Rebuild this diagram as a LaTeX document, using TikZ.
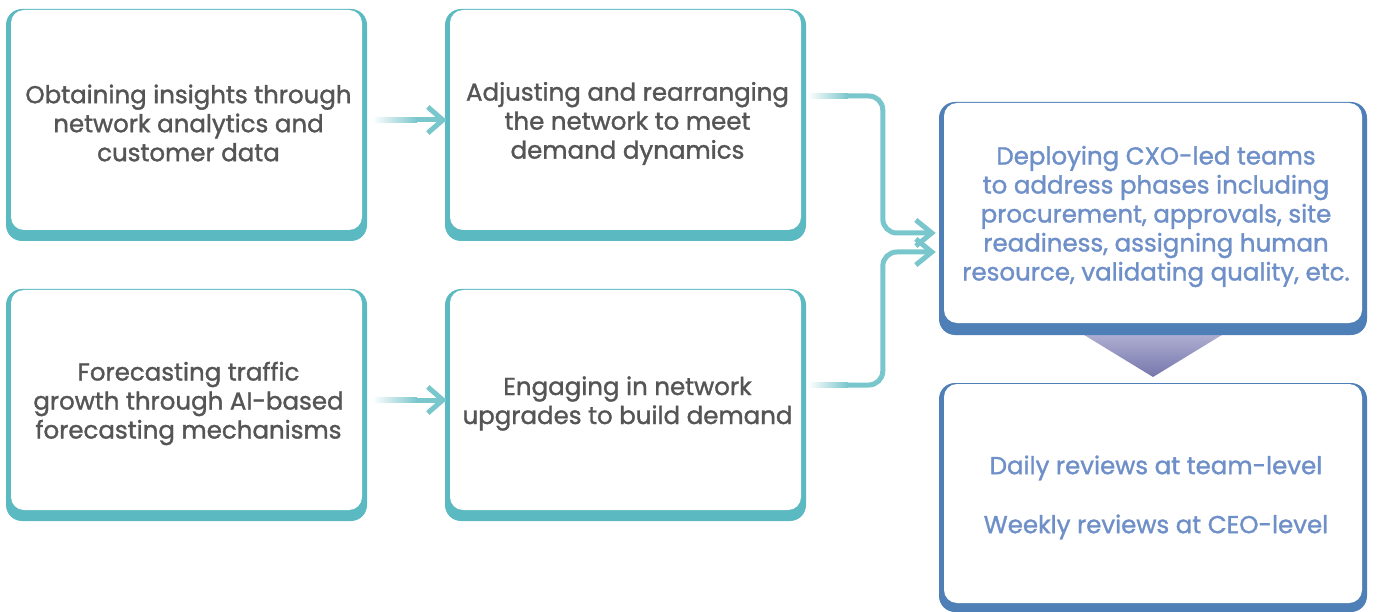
\documentclass[tikz,border=0pt]{standalone}
\usepackage{fontspec}
\setmainfont{Poppins}[UprightFeatures={FakeBold=1.3}]
\usetikzlibrary{calc}
\definecolor{tealbox}{HTML}{5AB9C1}
\definecolor{arrowT}{HTML}{79C6CC}
\definecolor{bluebox}{HTML}{4E7FB6}
\definecolor{bluetext}{HTML}{6E8FC8}
\definecolor{graytext}{HTML}{555555}
\definecolor{triTop}{HTML}{B4B4D6}
\definecolor{triBot}{HTML}{7676AC}
\begin{document}
\begin{tikzpicture}[x=1pt,y=-1pt,
  outerT/.style={fill=tealbox, rounded corners=16pt, minimum width=361pt, minimum height=232pt, inner sep=0pt},
  innerT/.style={fill=white, rounded corners=13pt, minimum width=351pt, minimum height=220pt, inner sep=0pt},
  txtT/.style={align=center, inner sep=0pt, text=graytext, font=\fontsize{24.5}{29}\selectfont},
  outerB/.style={fill=bluebox, rounded corners=16pt, minimum width=428pt, inner sep=0pt},
  innerB/.style={fill=white, rounded corners=13pt, minimum width=418pt, inner sep=0pt},
  txtB/.style={align=center, inner sep=0pt, text=bluetext, font=\fontsize{24.5}{29}\selectfont},
  arrowline/.style={draw=arrowT, line width=5pt},
  chev/.style={draw=arrowT, line width=5pt, miter limit=10}
]
\useasboundingbox (0,0) rectangle (1381,612);

% teal boxes
\node[outerT] (b1o) at (186.5,125) {};
\node[innerT] (b1) at (186.5,120) {};
\node[txtT] (t1) at ($(b1)+(2,3)$) {Obtaining insights through\\network analytics and\\customer data};
\node[outerT] (b2o) at (625.5,125) {};
\node[innerT] (b2) at (625.5,120) {};
\node[txtT] (t2) at ($(b2)+(2,3.5)$) {Adjusting and rearranging\\the network to meet\\demand dynamics};
\node[outerT] (b3o) at (186.5,405) {};
\node[innerT] (b3) at (186.5,400) {};
\node[txtT] (t3) at ($(b3)+(2,3.5)$) {Forecasting traffic\\growth through AI-based\\forecasting mechanisms};
\node[outerT] (b4o) at (625.5,405) {};
\node[innerT] (b4) at (625.5,400) {};
\node[txtT] (t4) at ($(b4)+(2,3.5)$) {Engaging in network\\upgrades to build demand};

% triangle
\shade[top color=triTop, bottom color=triBot] (1076,330) -- (1230,330) -- (1153,377) -- cycle;

% blue boxes
\node[outerB, minimum height=233pt] (b5o) at (1153,218.5) {};
\node[innerB, minimum height=220pt] (b5) at (1153,213) {};
\node[txtB] (t5) at ($(b5)+(3,3.5)$) {Deploying CXO-led teams\\to address phases including\\procurement, approvals, site\\readiness, assigning human\\resource, validating quality, etc.};
\node[outerB, minimum height=229pt] (b6o) at (1153,497.5) {};
\node[innerB, minimum height=219pt] (b6) at (1153,493.5) {};
\node[txtB] (t6) at ($(b6)+(3,4)$) {Daily reviews at team-level\\[30pt]Weekly reviews at CEO-level};

% horizontal arrows
\coordinate (a1s) at ($(b1.east)+(10,0)$);
\coordinate (a1t) at ($(b2o.west |- b1.east)+(-2,0)$);
\shade[left color=white,right color=arrowT] ($(a1s)+(0,-2.5)$) rectangle ($(a1s)+(45,2.5)$);
\draw[arrowline] ($(a1s)+(44,0)$) -- ($(a1t)+(-3,0)$);
\draw[chev] ($(a1t)+(-15,-13)$) -- (a1t) -- ($(a1t)+(-15,13)$);

\coordinate (a2s) at ($(b3.east)+(10,0)$);
\coordinate (a2t) at ($(b4o.west |- b3.east)+(-2,0)$);
\shade[left color=white,right color=arrowT] ($(a2s)+(0,-2.5)$) rectangle ($(a2s)+(45,2.5)$);
\draw[arrowline] ($(a2s)+(44,0)$) -- ($(a2t)+(-3,0)$);
\draw[chev] ($(a2t)+(-15,-13)$) -- (a2t) -- ($(a2t)+(-15,13)$);

% elbow connectors
\coordinate (e1s) at ($(b2o.east)+(2,-29)$);
\coordinate (e1t) at ($(b5o.west)+(-7,14.5)$);
\shade[left color=white,right color=arrowT] ($(e1s)+(0,-2.5)$) rectangle ($(e1s)+(40,2.5)$);
\draw[arrowline, rounded corners=14pt] ($(e1s)+(39,0)$) -| ($(e1t)+(-49,0)$) -- ($(e1t)+(-3,0)$);
\draw[chev] ($(e1t)+(-16,-13)$) -- (e1t) -- ($(e1t)+(-16,13)$);

\coordinate (e2s) at ($(b4o.east)+(2,-20)$);
\coordinate (e2t) at ($(b5o.west)+(-7,33.5)$);
\shade[left color=white,right color=arrowT] ($(e2s)+(0,-2.5)$) rectangle ($(e2s)+(40,2.5)$);
\draw[arrowline, rounded corners=14pt] ($(e2s)+(39,0)$) -| ($(e2t)+(-49,0)$) -- ($(e2t)+(-3,0)$);
\draw[chev] ($(e2t)+(-16,-13)$) -- (e2t) -- ($(e2t)+(-16,13)$);
\end{tikzpicture}
\end{document}
